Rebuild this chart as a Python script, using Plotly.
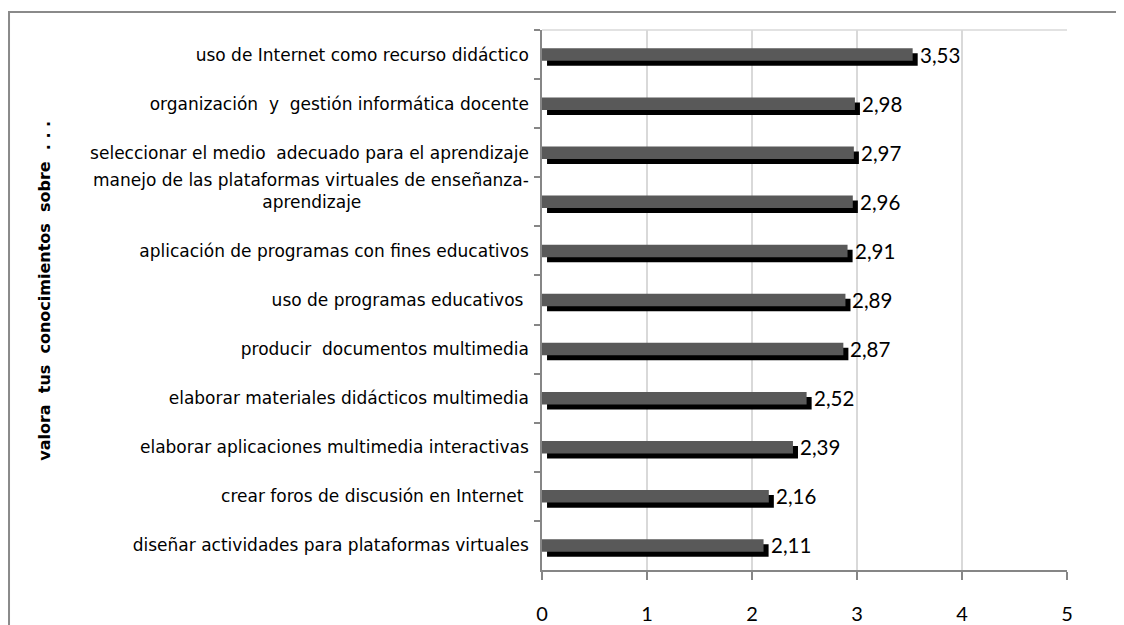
import plotly.graph_objects as go

categories = [
    "uso de Internet como recurso didáctico",
    "organización  y  gestión informática docente",
    "seleccionar el medio  adecuado para el aprendizaje",
    "manejo de las plataformas virtuales de enseñanza-<br>aprendizaje" + "\u00a0" * 31 + "<br> ",
    "aplicación de programas con fines educativos",
    "uso de programas educativos ",
    "producir  documentos multimedia",
    "elaborar materiales didácticos multimedia",
    "elaborar aplicaciones multimedia interactivas",
    "crear foros de discusión en Internet ",
    "diseñar actividades para plataformas virtuales",
]
values = [3.53, 2.98, 2.97, 2.96, 2.91, 2.89, 2.87, 2.52, 2.39, 2.16, 2.11]
x_ticks = [0, 1, 2, 3, 4, 5]
axis_title = "valora  tus  conocimientos  sobre  . . ."

CAT_FONT = "DejaVu Sans"
NUM_FONT = "Lato"

W = 0.255
DY = 0.102
DX = 0.048

fig = go.Figure()
# shadow bar
fig.add_trace(go.Bar(
    y=categories, x=values, orientation="h",
    base=DX, width=W, offset=-W / 2 + DY,
    marker=dict(color="#000000", line=dict(width=0)),
    hoverinfo="skip", showlegend=False,
))
# front bar
fig.add_trace(go.Bar(
    y=categories, x=values, orientation="h",
    width=W, offset=-W / 2,
    marker=dict(color="#595959", line=dict(width=0)),
    showlegend=False,
))

annotations = []
for c, v in zip(categories, values):
    annotations.append(dict(
        x=v + DX, y=c, xref="x", yref="y",
        text=f"{v:.2f}".replace(".", ","),
        showarrow=False, xanchor="left", yanchor="middle",
        xshift=0, yshift=0,
        font=dict(family=NUM_FONT, size=20.5, color="#000000"),
    ))
annotations.append(dict(
    x=-0.9467, y=0.517, xref="paper", yref="paper",
    text="<b>" + axis_title + "</b>", textangle=-90,
    showarrow=False, xanchor="center", yanchor="middle",
    font=dict(family=CAT_FONT, size=16, color="#000000"),
))

fig.update_layout(
    width=1116, height=617,
    margin=dict(l=534, r=57, t=22, b=55, autoexpand=False),
    paper_bgcolor="#ffffff", plot_bgcolor="#ffffff",
    barmode="overlay",
    annotations=annotations,
    shapes=[
        dict(type="rect", xref="paper", yref="paper",
             x0=-1.0152, x1=1.2, y0=-0.2, y1=1.0333,
             line=dict(color="#8a8a8a", width=2), layer="below"),
        dict(type="line", xref="paper", yref="paper",
             x0=0, x1=1, y0=1, y1=1,
             line=dict(color="#d9d9d9", width=1.5), layer="below"),
    ],
)
fig.update_xaxes(
    range=[0, 5], tickvals=x_ticks, ticktext=[str(t) for t in x_ticks],
    showgrid=True, gridcolor="#d9d9d9", gridwidth=1.5,
    showline=True, linecolor="#868686", linewidth=1.5,
    ticks="outside", ticklen=8, tickcolor="#868686", tickwidth=1.5,
    ticklabelstandoff=17,
    tickfont=dict(family=NUM_FONT, size=20, color="#000000"),
    zeroline=False, fixedrange=True,
)
fig.update_yaxes(
    type="category", autorange="reversed",
    categoryorder="array", categoryarray=categories,
    tickson="boundaries", ticks="outside", ticklen=6,
    tickcolor="#868686", tickwidth=1.5,
    showline=True, linecolor="#868686", linewidth=1.5,
    showgrid=False, zeroline=False,
    ticklabelstandoff=8,
    tickfont=dict(family=CAT_FONT, size=17, color="#000000"),
    fixedrange=True,
)

fig.write_html("out.html")
